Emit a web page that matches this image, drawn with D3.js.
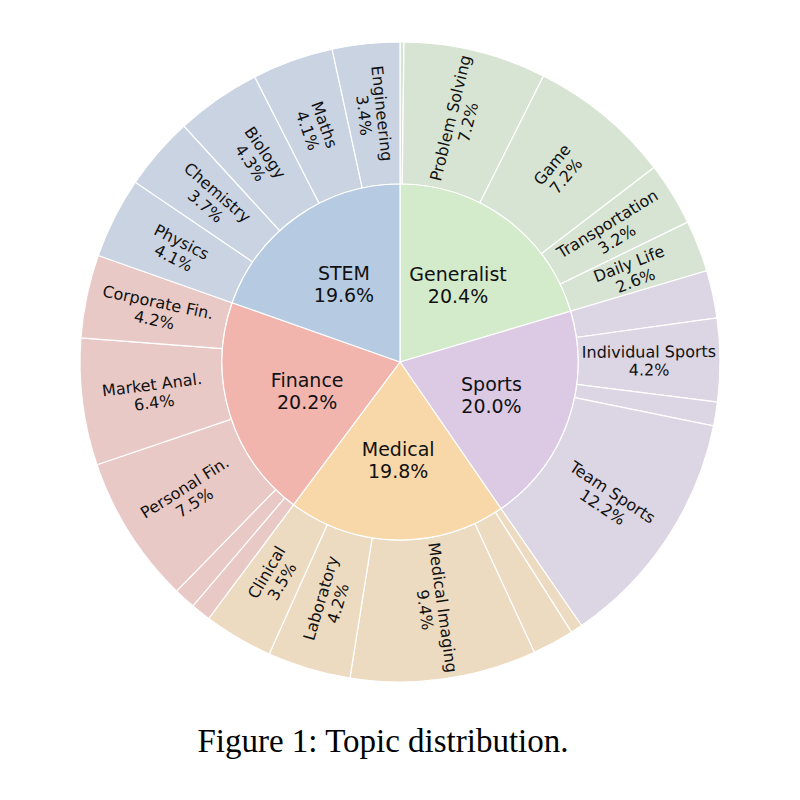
<!DOCTYPE html>
<html>
<head>
<meta charset="utf-8">
<script src="https://cdn.jsdelivr.net/npm/d3@7"></script>
<style>
  body { margin: 0; background: #fff; }
  svg { display: block; }
</style>
</head>
<body>
<svg id="chart" width="800" height="800"></svg>
<script>
// inner ring, clockwise from 12 o'clock
const topics = ["Generalist", "Sports", "Medical", "Finance", "STEM"];
const topicShares = [20.4, 20.0, 19.8, 20.2, 19.6];

// outer ring, clockwise; "" = small unlabelled slices
const subParents = [
    "Generalist", "Generalist", "Generalist", "Generalist", "Generalist",
    "Sports", "Sports", "Sports", "Sports",
    "Medical", "Medical", "Medical", "Medical", "Medical",
    "Finance", "Finance", "Finance", "Finance", "Finance",
    "STEM", "STEM", "STEM", "STEM", "STEM"
];
const subNames = [
    "", "Problem Solving", "Game", "Transportation", "Daily Life",
    "", "Individual Sports", "", "Team Sports",
    "", "", "Medical Imaging", "Laboratory", "Clinical",
    "", "", "Personal Fin.", "Market Anal.", "Corporate Fin.",
    "Physics", "Chemistry", "Biology", "Maths", "Engineering"
];
const subShares = [
    0.2, 7.2, 7.2, 3.2, 2.6,
    2.4, 4.2, 1.2, 12.2,
    0.6, 2.1, 9.4, 4.2, 3.5,
    1.0, 1.1, 7.5, 6.4, 4.2,
    4.1, 3.7, 4.3, 4.1, 3.4
];

const innerColors = {
    Generalist: "#d3ebca", Sports: "#dccae4", Medical: "#f8d8a8",
    Finance: "#f1b5ae", STEM: "#b6cbe1"
};
const outerColors = {
    Generalist: "#d8e4d3", Sports: "#dcd5e3", Medical: "#eddbc1",
    Finance: "#e9c9c6", STEM: "#c9d3e1"
};

const cx = 400, cy = 362;
const r0 = 178, r1 = 320;

const svg = d3.select("#chart");
const g = svg.append("g").attr("transform", `translate(${cx},${cy})`);

const pie = d3.pie().sort(null).value(d => d.value).startAngle(0).endAngle(2 * Math.PI);

const inner = pie(topics.map((t, i) => ({ name: t, value: topicShares[i] })));
const outer = pie(subNames.map((n, i) => ({ name: n, parent: subParents[i], value: subShares[i] })));

const innerArc = d3.arc().innerRadius(0).outerRadius(r0);
const outerArc = d3.arc().innerRadius(r0).outerRadius(r1);

g.append("g").selectAll("path")
    .data(outer)
    .enter().append("path")
    .attr("d", outerArc)
    .attr("fill", d => outerColors[d.data.parent])
    .attr("stroke", "#fff")
    .attr("stroke-width", 1.2);

g.append("g").selectAll("path")
    .data(inner)
    .enter().append("path")
    .attr("d", innerArc)
    .attr("fill", d => innerColors[d.data.name])
    .attr("stroke", "#fff")
    .attr("stroke-width", 1.2);

const font = "DejaVu Sans, sans-serif";

// inner labels, horizontal
const innerLabels = g.append("g").selectAll("text")
    .data(inner)
    .enter().append("text")
    .attr("transform", d => {
        const a = (d.startAngle + d.endAngle) / 2;
        return `translate(${Math.sin(a) * 97},${-Math.cos(a) * 97})`;
    })
    .attr("text-anchor", "middle")
    .attr("font-family", font)
    .attr("font-size", 19)
    .attr("fill", "#111");
innerLabels.append("tspan").attr("x", 0).attr("y", -3).text(d => d.data.name);
innerLabels.append("tspan").attr("x", 0).attr("y", 19).text(d => d.data.value.toFixed(1) + "%");

// outer labels, radial orientation kept upright
const rMid = (r0 + r1) / 2;
const outerLabels = g.append("g").selectAll("text")
    .data(outer.filter(d => d.data.name !== ""))
    .enter().append("text")
    .attr("transform", d => {
        const a = (d.startAngle + d.endAngle) / 2;
        let rot = a * 180 / Math.PI - 90;
        while (rot > 90) rot -= 180;
        while (rot < -90) rot += 180;
        return `translate(${Math.sin(a) * rMid},${-Math.cos(a) * rMid}) rotate(${rot})`;
    })
    .attr("text-anchor", "middle")
    .attr("font-family", font)
    .attr("font-size", 16)
    .attr("fill", "#111");
outerLabels.append("tspan").attr("x", 0).attr("y", -3).text(d => d.data.name);
outerLabels.append("tspan").attr("x", 0).attr("y", 15).text(d => d.data.value.toFixed(1) + "%");

svg.append("text")
    .attr("x", 383)
    .attr("y", 752)
    .attr("text-anchor", "middle")
    .attr("font-family", "Liberation Serif, Times New Roman, serif")
    .attr("font-size", 33)
    .attr("fill", "#000")
    .text("Figure 1: Topic distribution.");
</script>
</body>
</html>
